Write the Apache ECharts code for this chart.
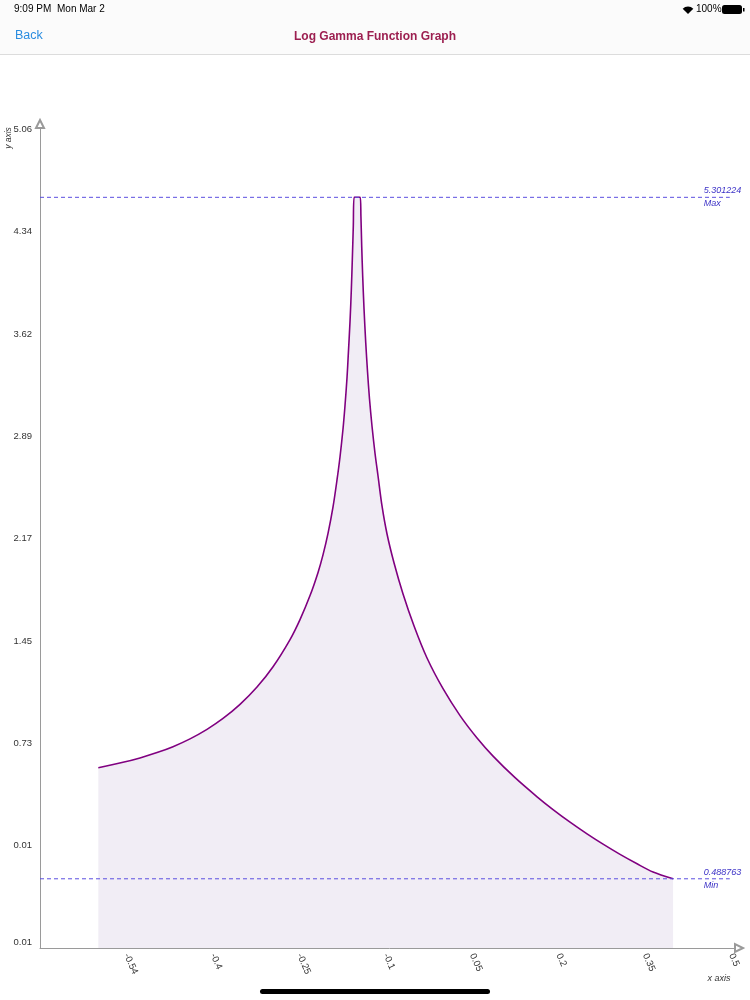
<!DOCTYPE html>
<html><head><meta charset="utf-8">
<script src="https://cdn.jsdelivr.net/npm/echarts@6/dist/echarts.min.js"></script>
<style>html,body{margin:0;padding:0;background:#fff}#c{width:750px;height:1000px}</style>
</head><body><div id="c"></div>
<script>
// ---- data ----
const xValues = [
  -0.5988,-0.5560,-0.5265,-0.4969,-0.4692,-0.4397,-0.4102,-0.3824,-0.3529,-0.3234,
  -0.2956,-0.2661,-0.2488,-0.2314,-0.2175,-0.2089,-0.2002,-0.1915,-0.1846,-0.1794,
  -0.1741,-0.1707,-0.1672,-0.1651,-0.1620,-0.1597,-0.1580,-0.1563,-0.1549,
  -0.1443,-0.1431,-0.1417,-0.1400,-0.1377,-0.1347,-0.1316,-0.1282,-0.1238,-0.1186,
  -0.1134,-0.1065,-0.0978,-0.0856,-0.0700,-0.0509,-0.0284,-0.0006,0.0289,0.0584,
  0.0862,0.1244,0.1626,0.1903,0.2198,0.2493,0.2771,0.3066,0.3361,0.3639,0.3986];
const yValues = [
  1.2733,1.3114,1.3425,1.3799,1.4216,1.4767,1.5438,1.6208,1.7203,1.8425,
  1.9859,2.1780,2.3192,2.4887,2.6525,2.7761,2.9280,3.1151,3.3051,3.4675,
  3.6688,3.8312,4.0290,4.1850,4.4251,4.6540,4.8658,5.0989,5.301224,
  5.301224,5.1695,4.9541,4.7422,4.5127,4.2726,4.0678,3.8771,3.6829,3.4922,
  3.3333,3.1215,2.9237,2.7189,2.5000,2.2740,2.0480,1.8312,1.6412,1.4831,
  1.3552,1.2027,1.0678,0.9774,0.8884,0.8058,0.7331,0.6610,0.5946,0.5367,0.488763];
const xTickValues = [-0.55,-0.4,-0.25,-0.1,0.05,0.2,0.35,0.5];
const xTickLabels = ['-0.54','-0.4','-0.25','-0.1','0.05','0.2','0.35','0.5'];
const yTickValues = [0,0.7225,1.445,2.1675,2.89,3.6125,4.335,5.0575,5.78];
const yTickLabels = ['0.01','0.01','0.73','1.45','2.17','2.89','3.62','4.34','5.06'];
const maxValue = 5.301224;
const minValue = 0.488763;
const maxName = 'Max';
const minName = 'Min';
const xMin = -0.70, xMax = 0.513, yMin = 0, yMax = 5.819;
const refLineEnd = 0.497;

const seriesData = xValues.map((x, i) => [x, yValues[i]]);
function nearestIndex(arr, v){let b=0;for(let i=1;i<arr.length;i++){if(Math.abs(arr[i]-v)<Math.abs(arr[b]-v))b=i;}return b;}

const FONT = '"Liberation Sans", Arial, sans-serif';
const refColor = '#5b4fe0';
const refLabelColor = '#3b31c6';
function refSeries(value, name){
  return {
    type: 'line', silent: true, symbol: 'none', z: 3,
    data: [[xMin, value], [refLineEnd, value]],
    lineStyle: {color: refColor, type: [4, 3], width: 1},
    endLabel: {
      show: true, distance: 0, offset: [-26, 0],
      formatter: () => '{v|' + String(value) + '}\n{n|' + name + '}',
      rich: {
        v: {fontSize: 9, fontStyle: 'italic', color: refLabelColor, width: 34, align: 'left', lineHeight: 13, fontFamily: FONT},
        n: {fontSize: 9, fontStyle: 'italic', color: refLabelColor, width: 34, align: 'left', lineHeight: 13, fontFamily: FONT}
      }
    }
  };
}

const chart = echarts.init(document.getElementById('c'), null, {renderer: 'canvas'});
chart.setOption({
  animation: false,
  backgroundColor: '#ffffff',
  title: {
    text: 'Log Gamma Function Graph', left: 'center', top: 26,
    textStyle: {fontSize: 12, fontWeight: 'bold', color: '#9c1f50', fontFamily: FONT}
  },
  grid: {left: 40, right: 11, top: 124, bottom: 52, containLabel: false},
  xAxis: {
    type: 'value', min: xMin, max: xMax,
    axisLine: {show: true, onZero: false, lineStyle: {color: '#9a9a9a', width: 1},
      symbol: ['none', 'emptyTriangle'], symbolSize: [8, 8]},
    axisTick: {show: false},
    splitLine: {show: false},
    axisLabel: {
      customValues: xTickValues, rotate: -66, margin: 6,
      fontSize: 9.5, color: '#333', fontFamily: FONT,
      formatter: v => xTickLabels[nearestIndex(xTickValues, v)]
    }
  },
  yAxis: {
    type: 'value', min: yMin, max: yMax,
    axisLine: {show: true, onZero: false, lineStyle: {color: '#9a9a9a', width: 1},
      symbol: ['none', 'emptyTriangle'], symbolSize: [8, 8]},
    axisTick: {show: false},
    splitLine: {show: false},
    axisLabel: {
      customValues: yTickValues, margin: 8,
      fontSize: 9.5, color: '#333', fontFamily: FONT,
      formatter: (v) => {
        const i = nearestIndex(yTickValues, v);
        return i === 0 ? '{b|' + yTickLabels[i] + '}' : yTickLabels[i];
      },
      rich: {b: {fontSize: 9.5, color: '#333', fontFamily: FONT, padding: [0, 0, 12, 0]}}
    }
  },
  series: [{
    type: 'line',
    data: seriesData,
    showSymbol: false,
    smooth: 0.3,
    z: 2,
    lineStyle: {color: '#800080', width: 1.6},
    areaStyle: {color: '#f1edf5', opacity: 1}
  },
  refSeries(maxValue, maxName),
  refSeries(minValue, minName)],
  graphic: [
    {type: 'rect', shape: {x: 0, y: 0, width: 750, height: 54}, style: {fill: '#fbfbfb'}, z: -10},
    {type: 'line', shape: {x1: 0, y1: 54.5, x2: 750, y2: 54.5}, style: {stroke: '#dcdcdc', lineWidth: 1}},
    {type: 'text', x: 14, y: 9, style: {text: '9:09 PM', fontSize: 10, fill: '#000', fontFamily: FONT, verticalAlign: 'middle'}},
    {type: 'text', x: 57, y: 9, style: {text: 'Mon Mar 2', fontSize: 10, fill: '#000', fontFamily: FONT, verticalAlign: 'middle'}},
    {type: 'sector', shape: {cx: 688, cy: 14, r: 7.5, r0: 0, startAngle: -Math.PI * 0.75, endAngle: -Math.PI * 0.25}, style: {fill: '#000'}},
    {type: 'text', x: 696, y: 9, style: {text: '100%', fontSize: 10, fill: '#000', fontFamily: FONT, verticalAlign: 'middle'}},
    {type: 'rect', shape: {x: 722, y: 5, width: 20, height: 9, r: 2.5}, style: {fill: '#000'}},
    {type: 'rect', shape: {x: 743, y: 8, width: 1.5, height: 3.5}, style: {fill: '#000'}},
    {type: 'text', x: 15, y: 36, style: {text: 'Back', fontSize: 12.5, fill: '#2a8de0', fontFamily: FONT, verticalAlign: 'middle'}},
    {type: 'text', x: 9, y: 138, rotation: Math.PI / 2, style: {text: 'y axis', fontSize: 8.5, fontStyle: 'italic', fill: '#333', fontFamily: FONT, align: 'center', verticalAlign: 'middle'}},
    {type: 'text', x: 719, y: 978, style: {text: 'x axis', fontSize: 9, fontStyle: 'italic', fill: '#333', fontFamily: FONT, align: 'center', verticalAlign: 'middle'}},
    {type: 'rect', shape: {x: 260, y: 989, width: 230, height: 5, r: 2.5}, style: {fill: '#000'}}
  ]
});
</script></body></html>
